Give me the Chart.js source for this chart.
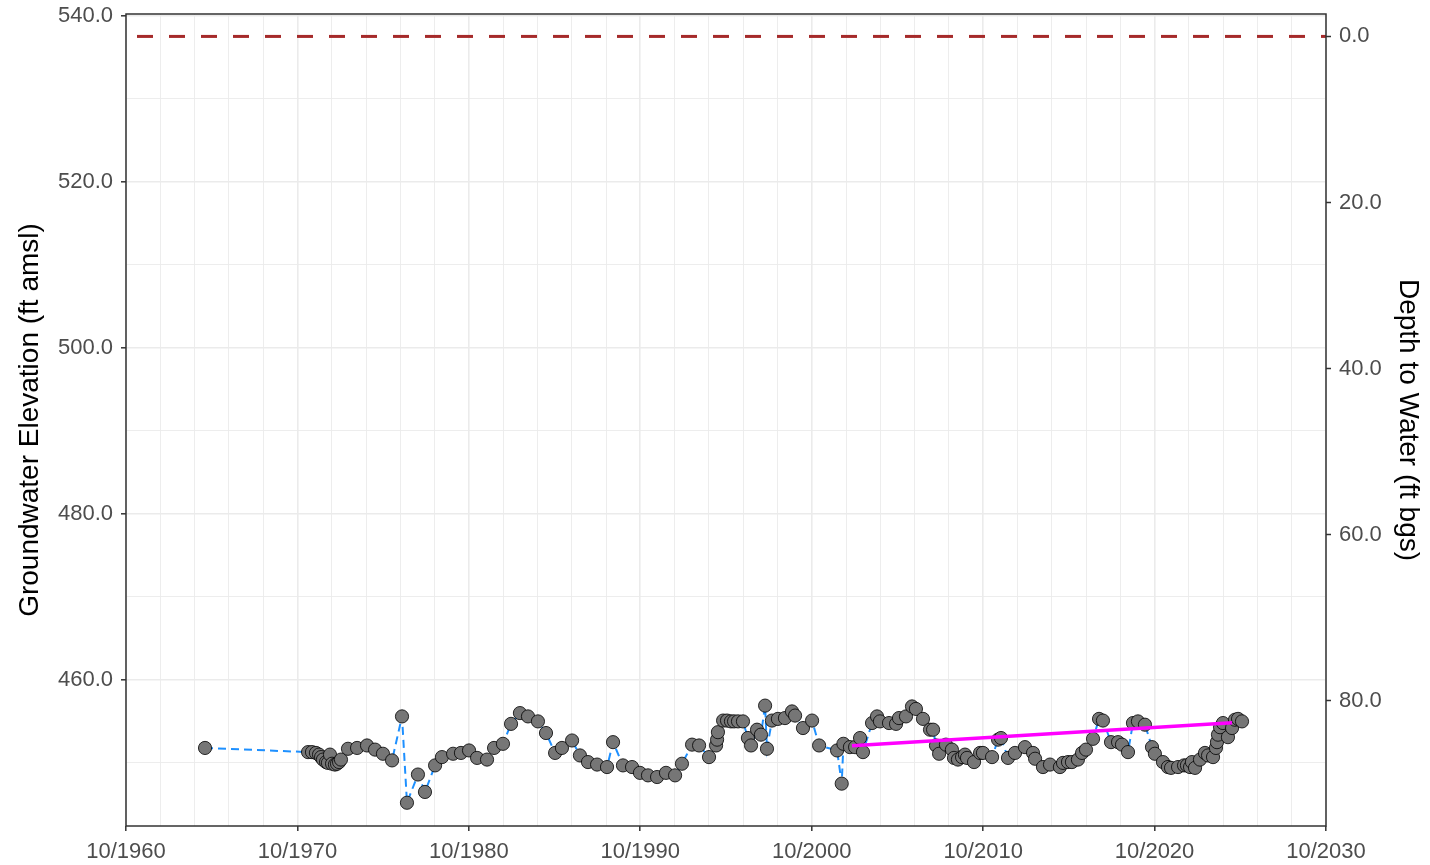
<!DOCTYPE html>
<html lang="en">
<head>
    <meta charset="UTF-8">
    <title>Groundwater Elevation Hydrograph</title>
    <script src="https://cdn.jsdelivr.net/npm/chart.js@4.4.1/dist/chart.umd.min.js"></script>
    <style>
        body { margin: 0; background: #ffffff; }
        #chart { display: block; }
    </style>
</head>
<body>
    <canvas id="chart" width="1430" height="865"></canvas>

    <script>
        // Observed water levels (decimal year, ft amsl)
        const obsYear = [
            1965.36, 1971.37, 1971.60, 1971.83, 1972.01, 1972.13, 1972.24, 1972.42, 1972.53, 1972.65,
            1972.77, 1972.94, 1973.06, 1973.18, 1973.29, 1973.70, 1974.23, 1974.81, 1975.28, 1975.74,
            1976.27, 1976.85, 1977.14, 1977.78, 1978.19, 1978.78, 1979.18, 1979.83, 1980.29, 1980.76,
            1981.23, 1981.81, 1982.22, 1982.74, 1983.21, 1983.73, 1984.20, 1984.78, 1985.25, 1985.78,
            1986.18, 1986.77, 1987.23, 1987.70, 1988.23, 1988.81, 1989.16, 1989.74, 1990.27, 1990.73,
            1991.20, 1991.73, 1992.25, 1992.78, 1993.18, 1993.77, 1994.18, 1994.76, 1995.17, 1995.23,
            1995.28, 1995.58, 1995.81, 1996.04, 1996.22, 1996.45, 1996.74, 1997.03, 1997.21, 1997.56,
            1997.79, 1998.03, 1998.14, 1998.43, 1998.78, 1999.19, 1999.60, 1999.78, 2000.24, 2000.77,
            2001.18, 2002.23, 2002.50, 2002.60, 2002.98, 2003.28, 2003.57, 2003.74, 2004.27, 2004.56,
            2004.73, 2005.26, 2005.67, 2005.84, 2006.25, 2006.60, 2006.83, 2007.24, 2007.65, 2007.83,
            2008.00, 2008.18, 2008.58, 2008.93, 2009.05, 2009.28, 2009.52, 2009.69, 2009.81, 2010.22,
            2010.57, 2010.74, 2011.27, 2011.62, 2011.79, 2012.20, 2012.61, 2013.19, 2013.66, 2013.78,
            2014.24, 2014.65, 2015.23, 2015.41, 2015.70, 2015.93, 2016.28, 2016.52, 2016.75, 2017.16,
            2017.51, 2017.74, 2018.21, 2018.62, 2018.85, 2019.20, 2019.49, 2019.78, 2020.19, 2020.60,
            2020.77, 2021.24, 2021.53, 2021.71, 2022.12, 2022.47, 2022.64, 2022.82, 2022.93, 2023.11,
            2023.40, 2023.69, 2023.87, 2024.16, 2024.33, 2024.39, 2024.45, 2024.57, 2024.74, 2025.03,
            2025.27, 2025.44, 2025.62, 2025.85
        ];
        const obsElev = [
            451.8, 451.3, 451.3, 451.2, 451.0, 450.7, 450.4, 450.1, 450.0, 451.0,
            449.9, 449.8, 449.9, 450.1, 450.4, 451.7, 451.8, 452.1, 451.6, 451.1,
            450.3, 455.6, 445.2, 448.6, 446.5, 449.7, 450.7, 451.1, 451.2, 451.5,
            450.6, 450.4, 451.8, 452.3, 454.7, 456.0, 455.6, 455.0, 453.6, 451.2,
            451.8, 452.7, 450.9, 450.1, 449.8, 449.5, 452.5, 449.7, 449.5, 448.8,
            448.5, 448.3, 448.8, 448.5, 449.9, 452.2, 452.1, 450.7, 452.1, 452.8,
            453.7, 455.1, 455.1, 455.0, 455.0, 455.0, 455.0, 453.0, 452.1, 454.0,
            453.4, 456.9, 451.7, 455.1, 455.3, 455.4, 456.2, 455.7, 454.2, 455.1,
            452.1, 451.5, 447.5, 452.3, 451.9, 451.9, 453.0, 451.3, 454.8, 455.6,
            455.0, 454.8, 454.7, 455.4, 455.6, 456.8, 456.5, 455.3, 454.0, 454.0,
            452.1, 451.1, 452.2, 451.6, 450.6, 450.4, 450.7, 451.0, 450.6, 450.1,
            451.2, 451.2, 450.7, 452.8, 453.0, 450.6, 451.2, 451.9, 451.2, 450.5,
            449.5, 449.8, 449.5, 450.0, 450.1, 450.1, 450.4, 451.2, 451.6, 452.9,
            455.3, 455.1, 452.5, 452.5, 452.2, 451.3, 454.8, 455.0, 454.6, 451.9,
            451.1, 450.1, 449.5, 449.4, 449.5, 449.7, 449.7, 449.5, 450.1, 449.4,
            450.4, 451.2, 450.9, 450.7, 451.8, 452.5, 453.4, 454.3, 454.8, 453.1,
            454.2, 455.2, 455.3, 455.0
        ];

        // Linear trend segment (start / end)
        const trendYear = [2003.10, 2025.27];
        const trendElev = [452.06, 454.83];

        // Ground surface elevation
        const groundSurface = 537.5;

        // Axis ticks
        const xMin = 1960.75, xMax = 2030.75;
        const xTickYears = [];
        for (let y = xMin; y <= xMax + 0.01; y += 2) xTickYears.push(+y.toFixed(2));
        const xMajorYears = [1960.75, 1970.75, 1980.75, 1990.75, 2000.75, 2010.75, 2020.75, 2030.75];
        const xMajorLabels = ['10/1960', '10/1970', '10/1980', '10/1990', '10/2000', '10/2010', '10/2020', '10/2030'];

        const yMin = 442.4, yMax = 540.2;
        const yTicks = [450, 460, 470, 480, 490, 500, 510, 520, 530, 540];
        const yMajor = [460, 480, 500, 520, 540];
        const depthTicks = [0, 20, 40, 60, 80];

        const isMajorX = v => xMajorYears.some(m => Math.abs(m - v) < 0.01);
        const isMajorY = v => yMajor.includes(v);

        const obsPoints = obsYear.map((x, i) => ({ x: x, y: obsElev[i] }));
        const trendPoints = trendYear.map((x, i) => ({ x: x, y: trendElev[i] }));
        const gsPoints = [{ x: xMin, y: groundSurface }, { x: xMax, y: groundSurface }];

        const tickFont = { family: 'Liberation Sans, Arial, sans-serif', size: 22 };
        const titleFont = { family: 'Liberation Sans, Arial, sans-serif', size: 28 };

        // panel border like ggplot theme_bw
        const panelBorder = {
            id: 'panelBorder',
            afterDatasetsDraw(chart) {
                const { ctx, chartArea: a } = chart;
                ctx.save();
                ctx.strokeStyle = '#333333';
                ctx.lineWidth = 1.5;
                ctx.strokeRect(a.left, a.top, a.right - a.left, a.bottom - a.top);
                ctx.restore();
            }
        };

        new Chart(document.getElementById('chart'), {
            type: 'scatter',
            data: {
                datasets: [
                    {
                        label: 'Trend',
                        data: trendPoints,
                        showLine: true,
                        borderColor: '#FF00FF',
                        borderWidth: 3.5,
                        pointRadius: 0
                    },
                    {
                        label: 'Observed',
                        data: obsPoints,
                        backgroundColor: '#767676',
                        borderColor: '#000000',
                        borderWidth: 0.8,
                        pointRadius: 6.6
                    },
                    {
                        label: 'Connector',
                        data: obsPoints,
                        showLine: true,
                        borderColor: '#1E90FF',
                        borderWidth: 2,
                        borderDash: [8, 5],
                        pointRadius: 0
                    },
                    {
                        label: 'Ground surface',
                        data: gsPoints,
                        showLine: true,
                        borderColor: '#A52A2A',
                        borderWidth: 3,
                        borderDash: [16, 16],
                        borderDashOffset: 21,
                        pointRadius: 0
                    }
                ]
            },
            options: {
                responsive: false,
                animation: false,
                devicePixelRatio: 1,
                layout: { padding: { top: 14, left: 0, right: 0, bottom: 0 } },
                plugins: {
                    legend: { display: false },
                    tooltip: { enabled: false }
                },
                scales: {
                    x: {
                        type: 'linear',
                        min: xMin,
                        max: xMax,
                        afterBuildTicks: s => { s.ticks = xTickYears.map(v => ({ value: v })); },
                        afterFit: s => { s.height = 39; s.paddingLeft = 0; s.paddingRight = 0; },
                        border: { display: false },
                        grid: {
                            color: '#EBEBEB',
                            lineWidth: c => isMajorX(c.tick.value) ? 1.6 : 0.9,
                            tickColor: c => isMajorX(c.tick.value) ? '#333333' : 'rgba(0,0,0,0)',
                            tickLength: 5,
                            tickWidth: 1.5
                        },
                        ticks: {
                            autoSkip: false,
                            maxRotation: 0,
                            padding: 8,
                            color: '#4D4D4D',
                            font: tickFont,
                            callback: v => {
                                const i = xMajorYears.findIndex(m => Math.abs(m - v) < 0.01);
                                return i >= 0 ? xMajorLabels[i] : '';
                            }
                        }
                    },
                    y: {
                        type: 'linear',
                        position: 'left',
                        min: yMin,
                        max: yMax,
                        afterBuildTicks: s => { s.ticks = yTicks.map(v => ({ value: v })); },
                        afterFit: s => { s.width = 126; s.paddingTop = 0; s.paddingBottom = 0; },
                        border: { display: false },
                        grid: {
                            color: '#EBEBEB',
                            lineWidth: c => isMajorY(c.tick.value) ? 1.6 : 0.9,
                            tickColor: c => isMajorY(c.tick.value) ? '#333333' : 'rgba(0,0,0,0)',
                            tickLength: 5,
                            tickWidth: 1.5
                        },
                        ticks: {
                            autoSkip: false,
                            padding: 8,
                            color: '#4D4D4D',
                            font: tickFont,
                            callback: v => isMajorY(v) ? v.toFixed(1) : ''
                        },
                        title: {
                            display: true,
                            text: 'Groundwater Elevation (ft amsl)',
                            color: '#000000',
                            font: titleFont,
                            padding: { top: 13, bottom: 0 }
                        }
                    },
                    y2: {
                        type: 'linear',
                        position: 'right',
                        reverse: true,
                        min: groundSurface - yMax,
                        max: groundSurface - yMin,
                        afterBuildTicks: s => { s.ticks = depthTicks.map(v => ({ value: v })); },
                        afterFit: s => { s.width = 104; s.paddingTop = 0; s.paddingBottom = 0; },
                        border: { display: false },
                        grid: {
                            drawOnChartArea: false,
                            tickColor: '#333333',
                            tickLength: 5,
                            tickWidth: 1.5
                        },
                        ticks: {
                            autoSkip: false,
                            padding: 8,
                            color: '#4D4D4D',
                            font: tickFont,
                            callback: v => v.toFixed(1)
                        },
                        title: {
                            display: true,
                            text: 'Depth to Water (ft bgs)',
                            color: '#000000',
                            font: titleFont,
                            padding: { top: 5, bottom: 0 }
                        }
                    }
                }
            },
            plugins: [panelBorder]
        });
    </script>
</body>
</html>
